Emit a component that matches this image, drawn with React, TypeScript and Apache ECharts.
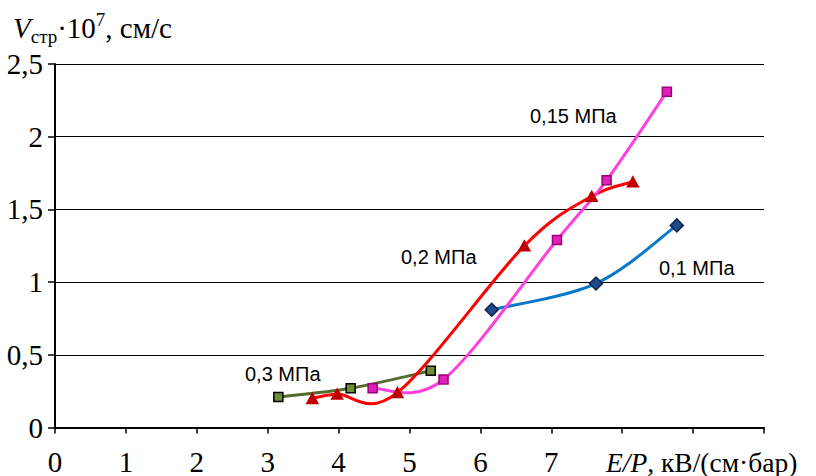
import React, { useEffect, useRef } from "react";
import * as echarts from "echarts";

// Streamer velocity vs. reduced field, for four gas pressures
const ep01 = [6.16, 7.63, 8.77];
const v01 = [0.81, 0.99, 1.39];

const ep015 = [4.48, 5.48, 7.08, 7.78, 8.63];
const v015 = [0.27, 0.33, 1.29, 1.7, 2.31];

const ep02 = [3.63, 3.98, 4.83, 6.62, 7.57, 8.15];
const v02 = [0.2, 0.23, 0.24, 1.25, 1.59, 1.69];

const ep03 = [3.15, 4.17, 5.3];
const v03 = [0.21, 0.27, 0.39];

const pressureLabels = ["0,1 МПа", "0,15 МПа", "0,2 МПа", "0,3 МПа"];

const xMin = 0;
const xMax = 10;
const xLastLabel = 7;
const yMin = 0;
const yMax = 2.5;
const yStep = 0.5;

const SERIF = "Liberation Serif";
const SANS = "Liberation Sans";

const pairs = (xs: number[], ys: number[]) => xs.map((x, i) => [x, ys[i]]);

// Cardinal spline through pixel points (spreadsheet-style smoothed line)
function smoothPath(pts: number[][], k = 1 / 6): string {
  if (pts.length < 2) return "";
  let d = `M${pts[0][0]},${pts[0][1]}`;
  for (let i = 0; i < pts.length - 1; i++) {
    const p0 = pts[Math.max(0, i - 1)];
    const p1 = pts[i];
    const p2 = pts[i + 1];
    const p3 = pts[Math.min(pts.length - 1, i + 2)];
    const c1x = p1[0] + (p2[0] - p0[0]) * k;
    const c1y = p1[1] + (p2[1] - p0[1]) * k;
    const c2x = p2[0] - (p3[0] - p1[0]) * k;
    const c2y = p2[1] - (p3[1] - p1[1]) * k;
    d += ` C${c1x},${c1y} ${c2x},${c2y} ${p2[0]},${p2[1]}`;
  }
  return d;
}

export default function App() {
  const ref = useRef<HTMLDivElement>(null);

  useEffect(() => {
    if (!ref.current) return;
    const chart = echarts.init(ref.current, null, { renderer: "svg" });

    const curve = (name: string, data: number[][], color: string, z: number) => ({
      name,
      type: "custom",
      data,
      z,
      clip: true,
      renderItem: (params: any, api: any) => {
        if (params.dataIndex !== 0) return null;
        const pts = data.map((p) => api.coord(p));
        return {
          type: "path",
          shape: { pathData: smoothPath(pts) },
          style: { stroke: color, lineWidth: 3, fill: "none" },
        };
      },
    });

    const markers = (
      name: string,
      data: number[][],
      symbol: string,
      symbolSize: number | number[],
      fill: string,
      border: string
    ) => ({
      name,
      type: "scatter",
      data,
      symbol,
      symbolSize,
      z: 10,
      itemStyle: { color: fill, borderColor: border, borderWidth: 1.5, opacity: 1 },
    });

    const d01 = pairs(ep01, v01);
    const d015 = pairs(ep015, v015);
    const d02 = pairs(ep02, v02);
    const d03 = pairs(ep03, v03);

    chart.setOption({
      animation: false,
      backgroundColor: "#fff",
      grid: { left: 55, right: 52, top: 64, bottom: 45 },
      xAxis: {
        type: "value",
        min: xMin,
        max: xMax,
        interval: 1,
        axisLine: { onZero: false, lineStyle: { color: "#000", width: 2 } },
        axisTick: { show: true, length: 6, lineStyle: { color: "#000", width: 1.5 } },
        splitLine: { show: false },
        axisLabel: {
          margin: 22,
          color: "#000",
          fontFamily: SERIF,
          fontSize: 29,
          lineHeight: 24,
          formatter: (v: number) => (v <= xLastLabel ? String(v) : ""),
        },
      },
      yAxis: {
        type: "value",
        min: yMin,
        max: yMax,
        interval: yStep,
        axisLine: { show: true, lineStyle: { color: "#000", width: 2 } },
        axisTick: { show: true, length: 7, lineStyle: { color: "#000", width: 1.5 } },
        splitLine: { show: true, lineStyle: { color: "#000", width: 1 } },
        axisLabel: {
          margin: 12,
          color: "#000",
          fontFamily: SERIF,
          fontSize: 29,
          formatter: (v: number) => String(v).replace(".", ","),
        },
      },
      series: [
        curve(pressureLabels[0], d01, "#0a78c8", 3),
        curve(pressureLabels[3], d03, "#556b2f", 4),
        curve(pressureLabels[2], d02, "#ff0000", 5),
        curve(pressureLabels[1], d015, "#ff40dc", 6),
        markers(pressureLabels[0], d01, "diamond", [13, 13], "#1f4a8a", "#0c2450"),
        markers(pressureLabels[3], d03, "rect", 9, "#6f8f33", "#000"),
        markers(pressureLabels[2], d02, "triangle", [11, 10], "#c00000", "#c00000"),
        markers(pressureLabels[1], d015, "rect", 9, "#e020b8", "#a0007a"),
      ],
      graphic: [
        {
          type: "text",
          x: 13,
          y: 28,
          style: {
            text: "{v|V}{s|стр}{n|·10}{p|7}{n|, см/с}",
            verticalAlign: "middle",
            fill: "#000",
            rich: {
              v: { fontFamily: SERIF, fontStyle: "italic", fontSize: 29, lineHeight: 36 },
              s: { fontFamily: SERIF, fontSize: 19, lineHeight: 22, verticalAlign: "bottom" },
              n: { fontFamily: SERIF, fontSize: 29, lineHeight: 36 },
              p: { fontFamily: SERIF, fontSize: 19, lineHeight: 22, verticalAlign: "top" },
            },
          },
        },
        {
          type: "text",
          x: 606,
          y: 462,
          style: {
            text: "{i|E/P}{n|, кВ/(см·бар)}",
            verticalAlign: "middle",
            fill: "#000",
            rich: {
              i: { fontFamily: SERIF, fontStyle: "italic", fontSize: 27.5, lineHeight: 24 },
              n: { fontFamily: SERIF, fontSize: 27.5, lineHeight: 24 },
            },
          },
        },
        { type: "text", x: 530, y: 116, style: { text: pressureLabels[1], fontFamily: SANS, fontSize: 20, fill: "#000", verticalAlign: "middle" } },
        { type: "text", x: 401, y: 257, style: { text: pressureLabels[2], fontFamily: SANS, fontSize: 20, fill: "#000", verticalAlign: "middle" } },
        { type: "text", x: 659, y: 268, style: { text: pressureLabels[0], fontFamily: SANS, fontSize: 20, fill: "#000", verticalAlign: "middle" } },
        { type: "text", x: 245, y: 374, style: { text: pressureLabels[3], fontFamily: SANS, fontSize: 20, fill: "#000", verticalAlign: "middle" } },
      ],
    });

    return () => chart.dispose();
  }, []);

  return (
    <div
      ref={ref}
      style={{ position: "fixed", left: 0, top: 0, width: 816, height: 476, background: "#fff" }}
    />
  );
}
